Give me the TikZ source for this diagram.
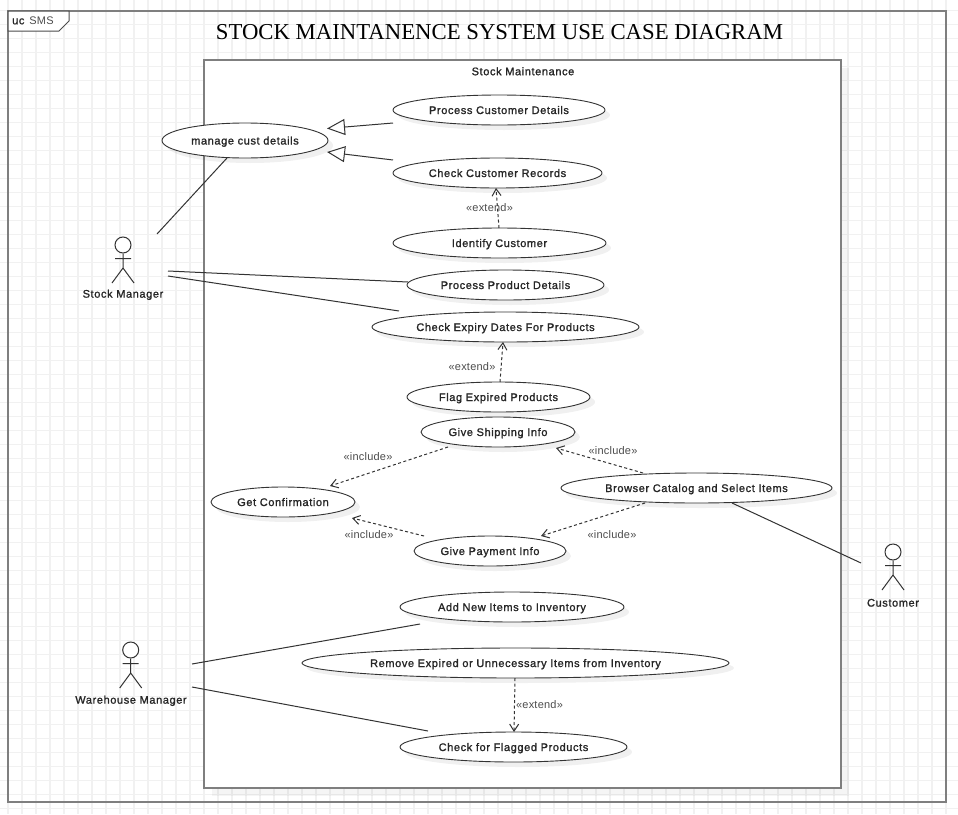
\documentclass[tikz,border=0pt]{standalone}
\usepackage{fontspec}
\setmainfont{Liberation Sans}
\newfontfamily\titlefont{Liberation Serif}
\newfontfamily\boldlabel[LetterSpace=5.5,FakeBold=1.3]{Liberation Sans}
\newfontfamily\thinlabel[LetterSpace=2]{Liberation Sans}
\usetikzlibrary{arrows.meta,shapes.geometric,shadows,calc}
\definecolor{gridc}{HTML}{F1F1F1}
\definecolor{framec}{HTML}{7F7F7F}
\definecolor{linec}{HTML}{333333}
\definecolor{textc}{HTML}{262626}
\definecolor{labelc}{HTML}{4D4D4D}
\tikzset{
  usecase/.style={ellipse,draw=linec,line width=.9pt,fill=white,inner sep=0pt,
    minimum height=30pt,text=textc,font=\boldlabel\fontsize{11}{12}\selectfont,
    text height=10pt,text depth=2pt,
    drop shadow={shadow xshift=5pt,shadow yshift=-5pt,opacity=.06,fill=black}},
  actorname/.style={inner sep=0pt,yshift=-0.8pt,text=textc,font=\boldlabel\fontsize{11}{12}\selectfont},
  stereo/.style={inner sep=1pt,yshift=-1pt,text=labelc,font=\thinlabel\fontsize{11}{12}\selectfont},
  assoc/.style={draw=linec,line width=1pt},
  gener/.style={draw=linec,line width=1pt,-{Triangle[open,length=18pt,width=16pt,fill=white]}},
  depend/.style={draw=linec,line width=1pt,dash pattern=on 3pt off 2.5pt,-{Straight Barb[length=7pt,width=9pt]}},
  actorfig/.pic={
    \node[circle,draw=linec,line width=1pt,fill=white,minimum size=16pt,inner sep=0pt] (-head) at (0,0) {};
    \draw[linec,line width=1pt] (-head.south) -- (0,23) (-8,13.5) -- (8,13.5)
      (-11,38) -- (0,23) -- (11,38);
  }
}
\begin{document}
\begin{tikzpicture}[x=1pt,y=-1pt]
\useasboundingbox (0,0) rectangle (958,814);
\fill[white] (0,0) rectangle (958,814);
% grid
\foreach \k in {0,...,68} {\draw[gridc,line width=1.4pt] ({8+14*\k},0) -- ({8+14*\k},814);}
\foreach \k in {0,...,57} {\draw[gridc,line width=1.4pt] (0,{10.67+14*\k}) -- (958,{10.67+14*\k});}
% frame
\draw[framec,line width=1.5pt] (8,11) rectangle (946,802);
\draw[framec!60!black,line width=1pt,fill=white] (8,11) -- (69,11) -- (69,21) -- (59,31) -- (8,31) -- cycle;
\node[anchor=west,inner sep=0pt,text=textc,font=\fontsize{11}{12}\selectfont] (tabtext) at (12,20.5) {\boldlabel uc\hspace{5pt}{\thinlabel\color{labelc}SMS}};
\node[inner sep=0pt,font=\titlefont\fontsize{22.75}{28}\selectfont,text=black] (title) at (499.5,32.5) {STOCK MAINTANENCE SYSTEM USE CASE DIAGRAM};
% system box
\fill[black,opacity=.04] (212,68) rectangle (849,796);
\draw[framec,line width=2pt,fill=white] (204,60) rectangle (841,788);
\node[inner sep=0pt,yshift=-0.3pt,text=textc,font=\boldlabel\fontsize{11}{12}\selectfont,text=textc] (systitle) at (523,71) {Stock Maintenance};
% use cases
\node[usecase,minimum width=166pt,minimum height=35pt] (mcd) at (245,140.5) {manage cust details};
\node[usecase,minimum width=212pt] (pcd) at (499,110) {Process Customer Details};
\node[usecase,minimum width=209pt] (ccr) at (497.5,173) {Check Customer Records};
\node[usecase,minimum width=213pt] (idc) at (499.5,243) {Identify Customer};
\node[usecase,minimum width=197pt] (ppd) at (505.5,285) {Process Product Details};
\node[usecase,minimum width=267pt] (ced) at (505.5,327) {Check Expiry Dates For Products};
\node[usecase,minimum width=183pt] (fep) at (498.5,397) {Flag Expired Products};
\node[usecase,minimum width=154pt] (gsi) at (498,432) {Give Shipping Info};
\node[usecase,minimum width=144pt] (gcf) at (283,502) {Get Confirmation};
\node[usecase,minimum width=271pt] (bcs) at (696.5,488) {Browser Catalog and Select Items};
\node[usecase,minimum width=152pt] (gpi) at (490,551) {Give Payment Info};
\node[usecase,minimum width=224pt] (ani) at (512,607) {Add New Items to Inventory};
\node[usecase,minimum width=427pt] (rem) at (515.5,663) {Remove Expired or Unnecessary Items from Inventory};
\node[usecase,minimum width=227pt] (cfp) at (513.5,747) {Check for Flagged Products};
% actors
\pic (sm) at (123,245) {actorfig};
\node[actorname] (smname) at (123,294) {Stock Manager};
\pic (wm) at (130.7,650) {actorfig};
\node[actorname] (wmname) at (131,700) {Warehouse Manager};
\pic (cu) at (893,552) {actorfig};
\node[actorname] (cuname) at (893,602) {Customer};
% associations
\draw[assoc] ([shift={(34,-11)}]sm-head.center) -- ([shift={(-18,17.5)}]mcd.center);
\draw[assoc] ([shift={(45,26)}]sm-head.center) -- ([shift={(-97.5,-3)}]ppd.center);
\draw[assoc] ([shift={(45,31)}]sm-head.center) -- ([shift={(-106.5,-16)}]ced.center);
\draw[assoc] ([shift={(61.3,14)}]wm-head.center) -- ([shift={(-92,17)}]ani.center);
\draw[assoc] ([shift={(61.3,37)}]wm-head.center) -- ([shift={(-85.5,-16)}]cfp.center);
\draw[assoc] ([shift={(-32,11)}]cu-head.center) -- ([shift={(35.5,15)}]bcs.center);
% generalizations
\draw[gener] ([shift={(-106,13)}]pcd.center) -- ([shift={(82,-12)}]mcd.center);
\draw[gener] ([shift={(-104.5,-13)}]ccr.center) -- ([shift={(82,11.5)}]mcd.center);
% dependencies
\draw[depend] ([shift={(-0.5,-15)}]idc.center) -- ([shift={(-1.5,15)}]ccr.center);
\node[stereo] (lb1) at (489.5,207) {«extend»};
\draw[depend] ([shift={(1.5,-15)}]fep.center) -- ([shift={(-2.5,15)}]ced.center);
\node[stereo] (lb2) at (472,366) {«extend»};
\draw[depend] ([shift={(-50,15)}]gsi.center) -- ([shift={(47,-16)}]gcf.center);
\node[stereo] (lb3) at (368,456) {«include»};
\draw[depend] ([shift={(-66,-15)}]gpi.center) -- ([shift={(69,16)}]gcf.center);
\node[stereo] (lb4) at (369,534) {«include»};
\draw[depend] ([shift={(-53.5,-15)}]bcs.center) -- ([shift={(58,16)}]gsi.center);
\node[stereo] (lb5) at (613,450) {«include»};
\draw[depend] ([shift={(-51.5,15)}]bcs.center) -- ([shift={(51,-15)}]gpi.center);
\node[stereo] (lb6) at (612,534) {«include»};
\draw[depend] ([shift={(-0.5,15)}]rem.center) -- ([shift={(0.5,-15)}]cfp.center);
\node[stereo] (lb7) at (539.5,704) {«extend»};
\end{tikzpicture}
\end{document}
